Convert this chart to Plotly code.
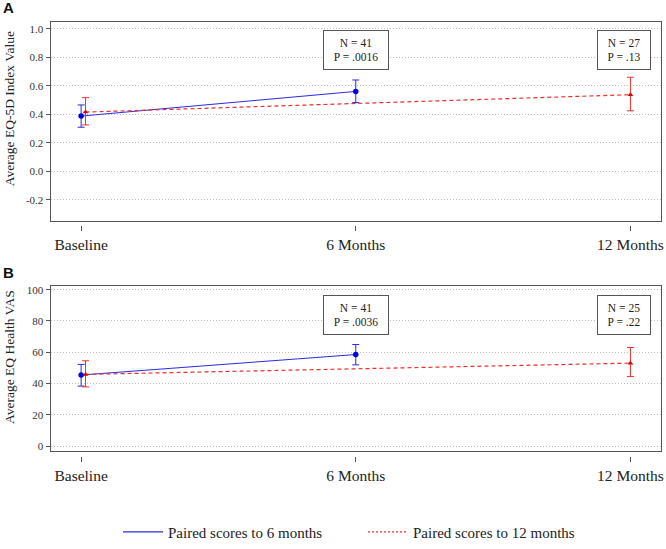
import plotly.graph_objects as go

# ---------------- data ----------------
categories = ["Baseline", "6 Months", "12 Months"]

# Panel A: EQ-5D index
a_blue_x = [0, 1]
a_blue_mean = [0.388, 0.561]
a_blue_upper = [0.466, 0.641]
a_blue_lower = [0.310, 0.483]

a_red_x = [0, 2]
a_red_mean = [0.416, 0.538]
a_red_upper = [0.517, 0.660]
a_red_lower = [0.326, 0.425]

a_notes = ["N = 41<br>P = .0016", "N = 27<br>P = .13"]
a_ytick_vals = [-0.2, 0.0, 0.2, 0.4, 0.6, 0.8, 1.0]
a_ytick_text = ["-0.2", "0.0", "0.2", "0.4", "0.6", "0.8", "1.0"]

# Panel B: EQ VAS
b_blue_x = [0, 1]
b_blue_mean = [45.4, 58.5]
b_blue_upper = [52.2, 64.9]
b_blue_lower = [38.3, 51.9]

b_red_x = [0, 2]
b_red_mean = [45.8, 53.0]
b_red_upper = [54.5, 63.0]
b_red_lower = [37.8, 44.4]

b_notes = ["N = 41<br>P = .0036", "N = 25<br>P = .22"]
b_ytick_vals = [0, 20, 40, 60, 80, 100]
b_ytick_text = ["0", "20", "40", "60", "80", "100"]

series_names = ["Paired scores to 6 months", "Paired scores to 12 months"]

# ---------------- styling ----------------
W, H = 666, 549
BLUE = "#2a2ae0"
RED = "#ec3030"
FRAME = "#555555"
GRID = "#bdbdbd"
SERIF = "Liberation Serif, Times New Roman, serif"
SANS = "Liberation Sans, Arial, sans-serif"
RED_OFFSET = 0.016  # small horizontal dodge of red series at baseline


def px_x(p):
    return p / W


def px_y(p):
    return 1 - p / H


XL, XR = 50.5, 660.5
A_T, A_B = 22.0, 224.5
B_T, B_B = 290.5, 459.0
XRANGE = [-0.1115, 2.1095]


def dodge(xs):
    return [x + (RED_OFFSET if x == 0 else 0) for x in xs]


def diffs(up, mean, low):
    return [u - m for u, m in zip(up, mean)], [m - l for m, l in zip(mean, low)]


fig = go.Figure()


def add_panel(xa, ya, bx, bm, bu, bl, rx, rm, ru, rlo):
    e_up, e_dn = diffs(bu, bm, bl)
    fig.add_trace(go.Scatter(
        x=bx, y=bm, mode="lines+markers", xaxis=xa, yaxis=ya,
        line=dict(color=BLUE, width=1),
        marker=dict(symbol="circle", size=5.5, color="#0000dd"),
        error_y=dict(type="data", symmetric=False, array=e_up, arrayminus=e_dn,
                     color=BLUE, thickness=1, width=3.5),
        showlegend=False, hoverinfo="skip"))
    e_up, e_dn = diffs(ru, rm, rlo)
    fig.add_trace(go.Scatter(
        x=dodge(rx), y=rm, mode="lines+markers", xaxis=xa, yaxis=ya,
        line=dict(color=RED, width=1.2, dash="4px,3px"),
        marker=dict(symbol="triangle-up", size=5, color="#dd0000"),
        error_y=dict(type="data", symmetric=False, array=e_up, arrayminus=e_dn,
                     color=RED, thickness=1, width=3.5),
        showlegend=False, hoverinfo="skip"))


add_panel("x", "y", a_blue_x, a_blue_mean, a_blue_upper, a_blue_lower,
          a_red_x, a_red_mean, a_red_upper, a_red_lower)
add_panel("x2", "y2", b_blue_x, b_blue_mean, b_blue_upper, b_blue_lower,
          b_red_x, b_red_mean, b_red_upper, b_red_lower)

# legend-only traces
fig.add_trace(go.Scatter(x=[None], y=[None], mode="lines", name=series_names[0],
                         line=dict(color=BLUE, width=1.2)))
fig.add_trace(go.Scatter(x=[None], y=[None], mode="lines", name=series_names[1],
                         line=dict(color=RED, width=1.2, dash="2px,2px")))

xdom = [px_x(XL), px_x(XR)]

frame_x = dict(domain=xdom, range=XRANGE, showline=True, mirror=True, linecolor=FRAME,
               linewidth=1, ticks="", showticklabels=False, showgrid=False,
               zeroline=False, fixedrange=True, automargin=False)
tick_x = dict(domain=xdom, range=XRANGE, tickmode="array", tickvals=[0, 1, 2],
              ticktext=categories, ticks="outside", ticklen=5, tickcolor=FRAME,
              showline=False, showgrid=False, zeroline=False, anchor="free",
              ticklabeloverflow="allow", automargin=False,
              tickfont=dict(family=SERIF, size=15.5, color="#222222"))


def yax(dom, rng, vals, texts):
    return dict(domain=dom, range=rng, tickmode="array", tickvals=vals, ticktext=texts,
                showline=True, mirror=True, linecolor=FRAME, linewidth=1,
                ticks="outside", ticklen=4, tickcolor=FRAME,
                showgrid=True, gridcolor=GRID, griddash="1px,2px", gridwidth=1,
                zeroline=False, tickfont=dict(family=SERIF, size=11, color="#333333"),
                automargin=False)


fig.update_layout(
    width=W, height=H, template="none",
    margin=dict(l=0, r=0, t=0, b=0),
    paper_bgcolor="white", plot_bgcolor="white",
    font=dict(family=SERIF, color="#222222"),
    xaxis=dict(frame_x, anchor="y"),
    yaxis=yax([px_y(A_B), px_y(A_T)], [-0.346, 1.050], a_ytick_vals, a_ytick_text) | dict(anchor="x"),
    xaxis2=dict(frame_x, anchor="y2"),
    yaxis2=yax([px_y(B_B), px_y(B_T)], [-3.5, 102.5], b_ytick_vals, b_ytick_text) | dict(anchor="x2"),
    xaxis3=dict(tick_x, overlaying="x", position=px_y(A_B + 4.5)),
    xaxis4=dict(tick_x, overlaying="x2", position=px_y(B_B + 4.5)),
    showlegend=True,
    legend=dict(orientation="h", x=px_x(118), xanchor="left", y=px_y(541), yanchor="middle",
                font=dict(family=SERIF, size=15, color="#222222"),
                bgcolor="rgba(0,0,0,0)", itemwidth=40, tracegroupgap=0,
                entrywidth=190, entrywidthmode="pixels"),
)

# dummy traces so the tick axes render
fig.add_trace(go.Scatter(x=[None], y=[None], xaxis="x3", yaxis="y", showlegend=False))
fig.add_trace(go.Scatter(x=[None], y=[None], xaxis="x4", yaxis="y2", showlegend=False))

ann = []
# boxes
for notes, top in ((a_notes, 30), (b_notes, 300)):
    for text, (cx, w) in zip(notes, ((355.8, 58), (624.0, 46))):
        ann.append(dict(xref="paper", yref="paper", x=px_x(cx), y=px_y(top + 20.5),
                        xanchor="center", yanchor="middle", text=text, showarrow=False,
                        font=dict(family=SERIF, size=11.5, color="#222222"),
                        bordercolor=FRAME, borderwidth=1, borderpad=3,
                        width=w, height=32, bgcolor="white"))
# axis titles
ann.append(dict(xref="paper", yref="paper", x=px_x(9), y=px_y(111), text="Average EQ-5D Index Value",
                textangle=-90, showarrow=False, xanchor="center", yanchor="middle",
                font=dict(family=SERIF, size=13.5, color="#222222")))
ann.append(dict(xref="paper", yref="paper", x=px_x(9), y=px_y(363), text="Average EQ Health VAS",
                textangle=-90, showarrow=False, xanchor="center", yanchor="middle",
                font=dict(family=SERIF, size=13.5, color="#222222")))
# panel letters
ann.append(dict(xref="paper", yref="paper", x=px_x(1), y=px_y(8), text="<b>A</b>",
                showarrow=False, xanchor="left", yanchor="middle",
                font=dict(family=SANS, size=15, color="#111111")))
ann.append(dict(xref="paper", yref="paper", x=px_x(1), y=px_y(277.5), text="<b>B</b>",
                showarrow=False, xanchor="left", yanchor="middle",
                font=dict(family=SANS, size=15, color="#111111")))
fig.update_layout(annotations=ann)

# remove the default 8px page margin so the figure sits at the window origin
fig.write_html("out.html", config={"displayModeBar": False},
               post_script="document.body.style.margin='0px';")
